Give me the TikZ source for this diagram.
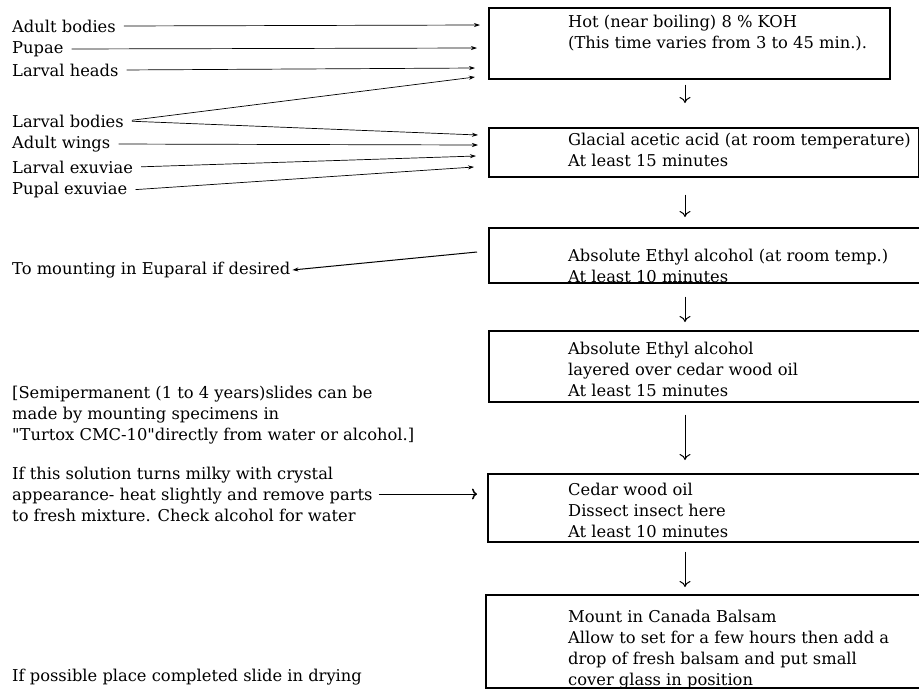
\documentclass[tikz,border=0pt]{standalone}
\usepackage{fontspec}
\setmainfont{DejaVu Serif}[Ligatures=TeXOff]
\usetikzlibrary{arrows.meta}

\tikzset{
  stage/.style={draw, line width=1.6pt, rectangle, anchor=north west, inner sep=0pt},
  steptext/.style={anchor=north west, inner sep=0pt, align=left},
  part/.style={anchor=west, inner sep=2pt},
  down/.style={-{To[length=6pt,width=11pt]}, line width=1pt},
  feed/.style={-{Stealth[length=6pt,width=4pt]}, line width=0.7pt}
}

\begin{document}
\begin{tikzpicture}[x=1pt, y=-1pt, every node/.style={font=\fontsize{16.3}{21}\selectfont}]
	\useasboundingbox (0,0) rectangle (919,689);

	% Boxes of the procedure
	\node[stage, minimum width=401pt, minimum height=71pt] (b1) at (488,7) {};
	\node[stage, minimum width=430pt, minimum height=49pt] (b2) at (488,127) {};
	\node[stage, minimum width=450pt, minimum height=55pt] (b3) at (488,227) {};
	\node[stage, minimum width=450pt, minimum height=71pt] (b4) at (488,330) {};
	\node[stage, minimum width=450pt, minimum height=68pt] (b5) at (487,473) {};
	\node[stage, minimum width=450pt, minimum height=93pt] (b6) at (485,594) {};

	% Texts in the boxes
	\node[steptext] (t1) at (568,15) {Hot (near boiling) 8 \% KOH\\(This time varies from 3 to 45 min.).};
	\node[steptext] (t2) at (568,132.5) {Glacial acetic acid (at room temperature)\\At least 15 minutes};
	\node[steptext] (t3) at (568,248.5) {Absolute Ethyl alcohol (at room temp.)\\At least 10 minutes};
	\node[steptext] (t4) at (568,341.5) {Absolute Ethyl alcohol\\layered over cedar wood oil\\At least 15 minutes};
	\node[steptext] (t5) at (568,482.5) {Cedar wood oil\\Dissect insect here\\At least 10 minutes};
	\node[steptext] (t6) at (568,609.5) {Mount in Canada Balsam\\Allow to set for a few hours then add a\\drop of fresh balsam and put small\\cover glass in position};

	% Arrows down the column
	\coordinate (axis) at (685,0);
	\foreach \a/\b/\s/\e in {b1/b2/5/24, b2/b3/17/10, b3/b4/13/8, b4/b5/12/13, b5/b6/9/7}
		\draw[down, shorten <=\s pt, shorten >=\e pt] (\a.south -| axis) -- (\b.north -| axis);

	% Parts of the insect
	\foreach \n/\y/\t in {ab/26/Adult bodies, pu/49/Pupae, lh/70/Larval heads, lb/121/Larval bodies,
		aw/144/Adult wings, le/167/Larval exuviae, pe/190/Pupal exuviae}
		\node[part] (\n) at (10,\y) {\t};

	\coordinate (inab) at (480,25);
	\coordinate (inpu) at (477,48);
	\coordinate (inlh) at (475,68);
	\coordinate (inlb) at (475,77);
	\coordinate (inlbb) at (478,135);
	\coordinate (inaw) at (478,145);
	\coordinate (inle) at (476,156);
	\coordinate (inpe) at (474,167);

	\draw[feed, shorten <=6pt] (ab.east) -- (inab);
	\draw[feed, shorten <=6pt] (pu.east) -- (inpu);
	\draw[feed, shorten <=6pt] (lh.east) -- (inlh);
	\draw[feed, shorten <=6pt] (lb.east) -- (inlb);
	\draw[feed, shorten <=6pt] (lb.east) -- (inlbb);
	\draw[feed, shorten <=6pt] (aw.east) -- (inaw);
	\draw[feed, shorten <=6pt] (le.east) -- (inle);
	\draw[feed, shorten <=6pt] (pe.east) -- (inpe);

	% Side notes
	\node[part] (eup) at (10,270) {To mounting in Euparal if desired};
	\coordinate (outeup) at (477,252);
	\draw[feed, line width=1pt] (outeup) -- (eup.east);

	\node[steptext] (semi) at (12,385.5) {[Semipermanent (1 to 4 years)slides can be\\made by mounting specimens in\\"Turtox CMC-10"directly from water or alcohol.]};

	\node[steptext] (milky) at (12,466.5) {If this solution turns milky with crystal\\appearance- heat slightly and remove parts\\to fresh mixture. Check alcohol for water};
	\draw[-{To[length=5pt,width=11pt,line width=1.5pt]}, line width=0.9pt, shorten <=6pt, shorten >=10pt]
		(milky.east) -- (milky.east -| b5.west);

	\node[part] (dry) at (10,677) {If possible place completed slide in drying};
\end{tikzpicture}
\end{document}
